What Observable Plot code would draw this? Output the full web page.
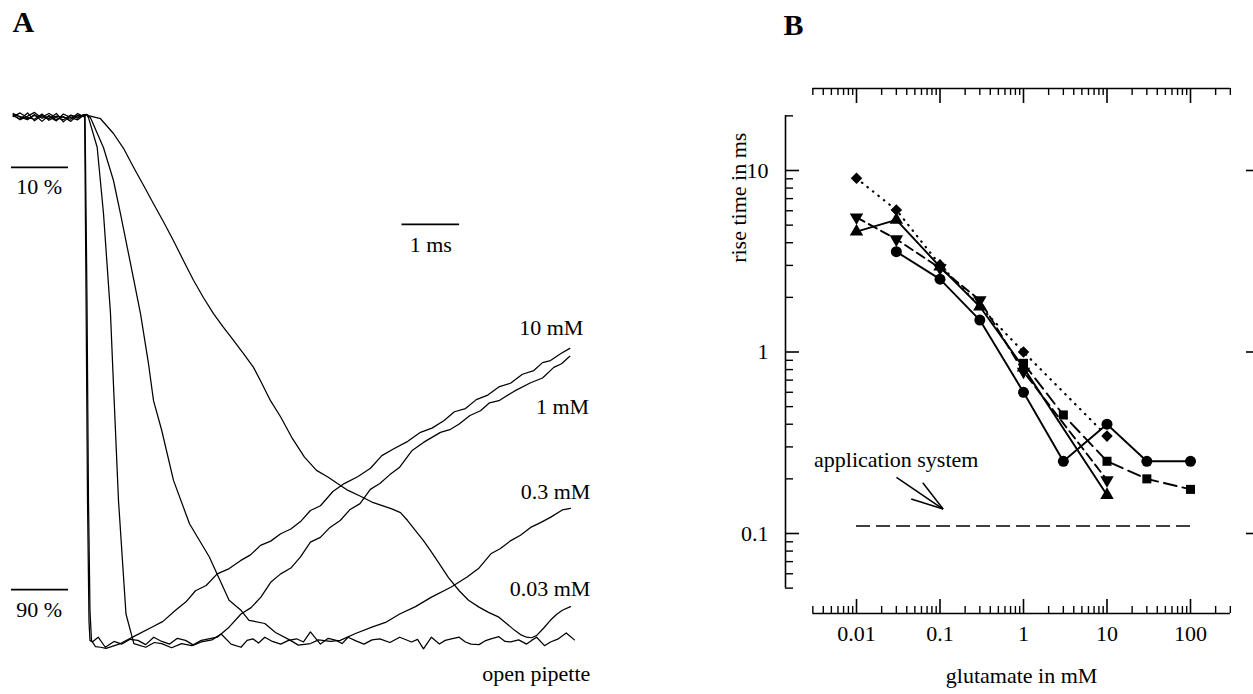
<!DOCTYPE html>
<html><head><meta charset="utf-8">
<script src="https://cdn.jsdelivr.net/npm/d3@7"></script>
<script src="https://cdn.jsdelivr.net/npm/@observablehq/plot@0.6"></script>
<style>
html,body{margin:0;padding:0;background:#fff;}
body{width:1253px;height:694px;overflow:hidden;position:relative;font-family:"Liberation Serif",serif;}
#a{position:absolute;left:0;top:0;width:640px;height:694px;}
#b{position:absolute;left:640px;top:0;width:640px;height:694px;}
svg{max-width:none !important;}
</style></head>
<body><div id="a"></div><div id="b"></div>
<script>
// ---------------- Panel A : normalised current traces (t in ms, r in % of peak, 0 = baseline) -------------
const traceOpen = [[0,0.2],[0.12,0.9],[0.25,-0.3],[0.37,1.2],[0.5,0.1],[0.62,0.8],[0.75,-0.2],[0.87,1.4],[1.0,0.2],[1.12,0.7],[1.22,0],
 [1.24,0],[1.265,35],[1.29,73],[1.316,96],[1.333,99.6],[1.373,99.9],[1.476,99],[1.599,100.9],[1.75,99.8],[1.889,100.3],[2.03,99.4],[2.165,99.6],[2.3,100.4],[2.44,99.0],
 [2.58,99.8],[2.716,100.3],[2.85,99.2],[2.991,99.6],[3.13,100.5],[3.267,99.9],[3.45,99.5],[3.611,98.4],[3.783,100.3],[3.955,100.9],[4.06,99.6],[4.161,99.3],[4.26,100.1],[4.368,99.0],[4.5,99.8],[4.644,100.3],[4.78,99.6],[4.92,99.3],
 [5.04,99.9],[5.16,98.0],[5.333,100.3],[5.47,99.2],[5.608,99.6],[5.71,100.2],[5.814,99.0],[5.95,99.7],[6.09,100.3],[6.23,99.5],[6.366,99.3],[6.54,100.0],[6.71,99.0],[6.917,99.9],[7.02,99.4],[7.123,101.2],[7.261,99.0],
 [7.399,100.3],[7.5,99.6],[7.606,99.3],[7.743,99.0],[7.85,99.9],[7.95,100.3],[8.087,100.4],[8.19,99.7],[8.294,99.3],[8.432,98.9],[8.54,99.8],[8.638,99.9],[8.776,99.5],[8.913,100.3],
 [9.0,99.6],[9.087,99.0],[9.224,100.6],[9.328,99.9],[9.465,99.3],[9.602,98.2],[9.743,99.5]];
const trace10 = [[0,-0.2],[0.12,0.5],[0.25,1.0],[0.37,0.0],[0.5,1.3],[0.62,0.2],[0.75,1.0],[0.87,0.4],[1.0,1.3],[1.12,0.1],[1.22,0.3],
 [1.247,0],[1.281,35],[1.307,73],[1.333,94],[1.359,99.6],[1.429,100.8],[1.516,100.9],[1.613,101.1],[1.863,100.2],[2.123,98.7],
 [2.406,97.1],[2.6,96.0],[2.818,93.9],[3.0,92.3],[3.165,90.2],[3.35,89.2],[3.542,87.0],[3.75,86.0],[3.946,84.5],[4.12,83.4],[4.293,81.6],
 [4.47,80.8],[4.644,79.4],[4.82,78.5],[4.988,77.1],[5.16,75.0],[5.335,74.1],[5.55,71.4],[5.747,69.9],[5.98,68.6],[6.203,67.0],[6.4,64.6],
 [6.608,63.3],[6.85,61.9],[7.071,60.2],[7.27,59.4],[7.476,58.0],[7.66,56.3],[7.852,55.7],[8.04,54.0],[8.229,53.2],[8.43,51.6],[8.634,50.9],
 [8.84,49.2],[9.038,48.5],[9.19,47.0],[9.328,46.6],[9.502,45.3],[9.663,44.3]];
const trace1 = [[0,0.4],[0.12,-0.3],[0.25,0.6],[0.37,0.9],[0.5,-0.1],[0.62,1.1],[0.75,0.3],[0.87,0.5],[1.0,0.9],[1.12,-0.2],[1.22,0.4],
 [1.273,0],[1.307,0.6],[1.458,6.2],[1.568,18.8],[1.689,37.7],[1.738,50.4],[1.828,73.1],[1.958,94.6],[2.095,100.2],[2.302,100.9],
 [2.45,100.0],[2.578,100.2],[2.75,101.0],[2.922,100.2],[3.1,100.6],[3.267,99.6],[3.542,99.0],[3.748,97.1],[3.955,94.6],[4.13,93.4],
 [4.300,91.4],[4.47,88.6],[4.644,87.0],[4.82,85.9],[4.988,83.8],[5.16,81.0],[5.333,80.1],[5.5,78.2],[5.677,76.9],[5.85,74.8],[6.021,73.7],
 [6.2,71.0],[6.366,69.9],[6.54,68.2],[6.710,66.8],[6.92,63.7],[7.123,62.1],[7.418,60.2],[7.58,59.7],[7.743,58.6],[7.93,57.0],[8.113,56.1],
 [8.27,54.6],[8.432,54.2],[8.7,52.4],[8.983,50.8],[9.19,49.9],[9.385,47.9],[9.52,47.2],[9.663,45.8]];
const trace03 = [[0,0.1],[0.12,1.0],[0.25,0.3],[0.37,-0.4],[0.5,0.7],[0.62,0.4],[0.75,1.2],[0.87,-0.1],[1.0,0.6],[1.12,1.0],[1.22,0.2],
 [1.273,0],[1.342,0.6],[1.568,6.3],[1.741,12.5],[1.863,18.8],[2.036,28.2],[2.210,37.7],[2.349,47.2],[2.436,54.2],[2.578,59.8],
 [2.783,69.3],[3.061,77.5],[3.405,83.8],[3.748,92.0],[3.955,93.9],[4.094,95.8],[4.368,96.4],[4.554,98.1],[4.814,99.6],[4.95,100.5],
 [5.161,100.2],[5.3,99.5],[5.509,99.8],[5.677,99.6],[5.943,98.3],[6.227,97.1],[6.464,96.2],[6.710,94.6],[6.984,93.2],[7.262,91.4],
 [7.606,89.5],[7.880,87.6],[8.078,86.0],[8.293,83.2],[8.460,82.2],[8.639,80.7],[8.807,79.7],[8.983,78.2],[9.155,77.3],[9.326,76.3],
 [9.533,74.9],[9.675,74.6]];
const trace003 = [[0,0.0],[0.12,0.4],[0.25,0.8],[0.37,0.2],[0.5,0.5],[0.62,-0.2],[0.75,0.6],[0.87,1.0],[1.0,0.1],[1.12,0.5],[1.22,0.1],
 [1.273,0],[1.307,0.2],[1.516,0.8],[1.741,3.6],[1.915,6.4],[2.089,10.0],[2.262,13.4],[2.436,16.9],[2.609,20.3],[2.783,23.9],
 [2.957,27.7],[3.130,31.4],[3.304,34.7],[3.477,37.7],[3.651,40.3],[3.825,42.8],[3.998,45.3],[4.172,47.9],[4.311,50.8],[4.467,54.2],
 [4.644,57.3],[4.849,61.4],[5.057,64.9],[5.266,67.4],[5.470,68.7],[5.630,69.9],[5.814,71.2],[6.030,72.3],[6.227,73.4],[6.573,74.7],
 [6.724,75.4],[6.847,76.9],[6.984,78.8],[7.123,80.7],[7.245,82.6],[7.399,85.1],[7.557,87.7],[7.743,90.2],[7.905,92.0],[8.087,93.3],
 [8.252,94.3],[8.432,95.2],[8.564,96.4],[8.707,97.7],[8.807,98.5],[8.913,99.0],[8.998,99.1],[9.085,98.7],[9.207,97.3],[9.326,95.8],
 [9.432,94.7],[9.533,93.9],[9.675,93.2]];

const traceNames  = ["open pipette", "10 mM", "1 mM", "0.3 mM", "0.03 mM"];
const traceLabelT = [10.02, 9.9, 10.0, 10.02, 10.02];
const traceLabelR = [105.9, 40.5, 55.3, 71.5, 89.8];
const pctBars = [10, 90];
const pctBarLabels = ["10 %", "90 %"];
const pctLabelR = [13.8, 93.9];
const timeBar = {t1: 6.75, t2: 7.75, r: 20.8, label: "1 ms", labelR: 24.8};

// ---------------- Panel B : rise time (ms) vs glutamate (mM) -------------
const circX = [0.03, 0.1, 0.3, 1, 3, 10, 30, 100];
const circY = [3.57, 2.52, 1.50, 0.60, 0.25, 0.40, 0.25, 0.25];
const diamX = [0.01, 0.03, 0.1, 1, 10];
const diamY = [9.06, 6.06, 3.02, 1.0, 0.344];
const upX   = [0.01, 0.03, 0.1, 0.3, 1, 10];
const upY   = [4.6, 5.34, 2.95, 1.78, 0.82, 0.163];
const downX = [0.01, 0.03, 0.1, 0.3, 1, 10];
const downY = [5.52, 4.18, 2.9, 1.93, 0.78, 0.197];
const sqX   = [1, 3, 10, 30, 100];
const sqY   = [0.866, 0.45, 0.25, 0.2, 0.175];
const appSystem = {x1: 0.01, x2: 100, y: 0.11, label: "application system", labelX: 0.0031, labelY: 0.254};
const arrowTip = {x: 0.109, y: 0.1364};
const arrowFromX = [0.0301, 0.0622, 0.0452];
const arrowFromY = [0.204, 0.1905, 0.1549];

const xTickVals = [0.01, 0.1, 1, 10, 100];
const xTickLabels = ["0.01", "0.1", "1", "10", "100"];
const yTickVals = [0.1, 1, 10];
const yTickLabels = ["0.1", "1", "10"];
const xAxisExtent = [0.003, 300];
const yAxisExtent = [0.05, 20];

// ---------- build panel A ----------
const FONT = "Liberation Serif";
const rows = (pairs, name) => pairs.map(([t, r]) => ({t, r, name}));
const traceRows = [
  ...rows(traceOpen, "open pipette"), ...rows(trace10, "10 mM"), ...rows(trace1, "1 mM"),
  ...rows(trace03, "0.3 mM"), ...rows(trace003, "0.03 mM")];

const panelA = Plot.plot({
  width: 640, height: 694, margin: 0,
  x: {domain: [0, 10], range: [12.7, 588.7], axis: null},
  y: {domain: [0, 100], range: [114, 642], axis: null},
  style: {fontFamily: FONT, background: "white", color: "black", overflow: "visible", maxWidth: "none"},
  marks: [
    Plot.line(traceRows, {x: "t", y: "r", z: "name", stroke: "black", strokeWidth: 1.25, curve: "linear"}),
    Plot.ruleY(pctBars, {y: d => d, x1: -0.03, x2: 0.96, stroke: "black", strokeWidth: 1.8}),
    Plot.text(pctBarLabels, {x: 0.45, y: (d, i) => pctLabelR[i], text: d => d, fontSize: 22, fontFamily: FONT, fill: "black"}),
    Plot.ruleY([timeBar], {y: "r", x1: "t1", x2: "t2", stroke: "black", strokeWidth: 1.8}),
    Plot.text([timeBar], {x: d => (d.t1 + d.t2) / 2, y: "labelR", text: "label", fontSize: 22, fontFamily: FONT, fill: "black"}),
    Plot.text(traceNames, {x: (d, i) => traceLabelT[i], y: (d, i) => traceLabelR[i], text: d => d, textAnchor: "end", fontSize: 22, fontFamily: FONT, fill: "black"}),
    Plot.text(["A"], {frameAnchor: "top-left", dx: 12, dy: 10, lineAnchor: "top", textAnchor: "start", fontSize: 30, fontWeight: "bold", fontFamily: FONT, fill: "black"})
  ]
});
document.getElementById("a").append(panelA);

// ---------- build panel B ----------
const mL = 145, mR = 20, mT = 88, mB = 81, WB = 640, HB = 694;
const frameW = WB - mL - mR, frameH = HB - mT - mB;
const xDom = [0.01, 100], xRng = [216, 550];
const yDom = [0.1, 10], yRng = [533, 170];
const xs = d3.scaleLog().domain(xDom).range(xRng);
const ys = d3.scaleLog().domain(yDom).range(yRng);
const xLeftEdge = xs.invert(mL), xRightEdge = xs.invert(WB - mR);
const yBottomEdge = ys.invert(HB - mB), yTopEdge = ys.invert(mT);

const minorTicks = (lo, hi) => {
  const out = [];
  for (let e = -4; e <= 3; e++) for (let m = 2; m <= 9; m++) {
    const v = +(m * Math.pow(10, e)).toPrecision(6);
    if (v >= lo * 0.999 && v <= hi * 1.001) out.push(v);
  }
  return out;
};
const xMinor = minorTicks(xAxisExtent[0], xAxisExtent[1]);
const yMinor = minorTicks(yAxisExtent[0], yAxisExtent[1]);

const pts = (X, Y, name) => X.map((x, i) => ({x, y: Y[i], name}));
const circ = pts(circX, circY, "circle"), diam = pts(diamX, diamY, "diamond"),
      up = pts(upX, upY, "up"), down = pts(downX, downY, "down"), sq = pts(sqX, sqY, "square");
const arrowSegs = arrowFromX.map((x, i) => ({x1: x, y1: arrowFromY[i], x2: arrowTip.x, y2: arrowTip.y}));

const lineStyle = {stroke: "black", strokeWidth: 1.9};
const panelB = Plot.plot({
  width: WB, height: HB, marginLeft: mL, marginRight: mR, marginTop: mT, marginBottom: mB,
  x: {type: "log", domain: xDom, range: xRng, axis: null},
  y: {type: "log", domain: yDom, range: yRng, axis: null},
  style: {fontFamily: FONT, background: "white", color: "black", overflow: "visible", maxWidth: "none"},
  marks: [
    // axis lines
    Plot.ruleY([yBottomEdge], {y: d => d, x1: xAxisExtent[0], x2: xAxisExtent[1], stroke: "black", strokeWidth: 1.6}),
    Plot.ruleY([yTopEdge], {y: d => d, x1: xAxisExtent[0], x2: xAxisExtent[1], stroke: "black", strokeWidth: 1.6}),
    Plot.ruleX([xLeftEdge], {x: d => d, y1: yAxisExtent[0], y2: yAxisExtent[1], stroke: "black", strokeWidth: 1.6}),
    Plot.ruleX([xRightEdge], {x: d => d, y1: yAxisExtent[0], y2: yAxisExtent[1], stroke: "black", strokeWidth: 1.6}),
    // bottom ticks (inward)
    Plot.ruleX(xTickVals, {x: d => d, insetTop: frameH - 14, stroke: "black", strokeWidth: 1.6}),
    Plot.ruleX(xMinor, {x: d => d, insetTop: frameH - 7, stroke: "black", strokeWidth: 1.4}),
    // top ticks
    Plot.ruleX(xTickVals, {x: d => d, insetBottom: frameH - 15, stroke: "black", strokeWidth: 1.6}),
    Plot.ruleX(xMinor, {x: d => d, insetBottom: frameH - 7, stroke: "black", strokeWidth: 1.4}),
    // left ticks
    Plot.ruleY(yTickVals, {y: d => d, insetRight: frameW - 14, stroke: "black", strokeWidth: 1.6}),
    Plot.ruleY(yMinor, {y: d => d, insetRight: frameW - 8, stroke: "black", strokeWidth: 1.4}),
    // right ticks
    Plot.ruleY(yTickVals, {y: d => d, insetLeft: frameW - 14, stroke: "black", strokeWidth: 1.6}),
    Plot.ruleY(yMinor, {y: d => d, insetLeft: frameW - 7, stroke: "black", strokeWidth: 1.4}),
    // tick labels
    Plot.text(xTickVals, {x: d => d, frameAnchor: "bottom", dy: 27, text: (d, i) => xTickLabels[i], fontSize: 22, fontFamily: FONT, fill: "black"}),
    Plot.text(yTickVals, {y: d => d, frameAnchor: "left", dx: -17, textAnchor: "end", text: (d, i) => yTickLabels[i], fontSize: 22, fontFamily: FONT, fill: "black"}),
    Plot.text(["glutamate in mM"], {x: 0.95, frameAnchor: "bottom", dy: 69, fontSize: 22, fontFamily: FONT, fill: "black"}),
    Plot.text(["rise time in ms"], {y: 3.1, frameAnchor: "left", dx: -47, rotate: -90, fontSize: 22, fontFamily: FONT, fill: "black"}),
    Plot.text(["B"], {frameAnchor: "top-left", dx: -2, dy: -75, lineAnchor: "top", textAnchor: "start", fontSize: 30, fontWeight: "bold", fontFamily: FONT, fill: "black"}),
    // application system
    Plot.ruleY([appSystem], {y: "y", x1: "x1", x2: "x2", stroke: "black", strokeWidth: 1.6, strokeDasharray: "14,6"}),
    Plot.text([appSystem], {x: "labelX", y: "labelY", text: "label", textAnchor: "start", fontSize: 22, fontFamily: FONT, fill: "black"}),
    Plot.link(arrowSegs, {x1: "x1", y1: "y1", x2: "x2", y2: "y2", stroke: "black", strokeWidth: 1.5}),
    // series lines
    Plot.line(circ, {x: "x", y: "y", ...lineStyle}),
    Plot.line(up, {x: "x", y: "y", ...lineStyle}),
    Plot.line(down, {x: "x", y: "y", ...lineStyle, strokeDasharray: "9,5"}),
    Plot.line(sq, {x: "x", y: "y", ...lineStyle, strokeDasharray: "13,6"}),
    Plot.line(diam, {x: "x", y: "y", stroke: "black", strokeWidth: 2.2, strokeDasharray: "0.5,6.5", strokeLinecap: "round"}),
    // markers
    Plot.dot(circ, {x: "x", y: "y", symbol: "circle", r: 5.5, fill: "black", stroke: null}),
    Plot.dot(sq, {x: "x", y: "y", symbol: "square", r: 5.1, fill: "black", stroke: null}),
    Plot.dot(diam, {x: "x", y: "y", symbol: "diamond2", r: 5.2, fill: "black", stroke: null}),
    Plot.dot(up, {x: "x", y: "y", symbol: "triangle", r: 5, fill: "black", stroke: null}),
    Plot.dot(down, {x: "x", y: "y", symbol: "triangle", rotate: 180, r: 5, fill: "black", stroke: null})
  ]
});
document.getElementById("b").append(panelB);
</script></body></html>
